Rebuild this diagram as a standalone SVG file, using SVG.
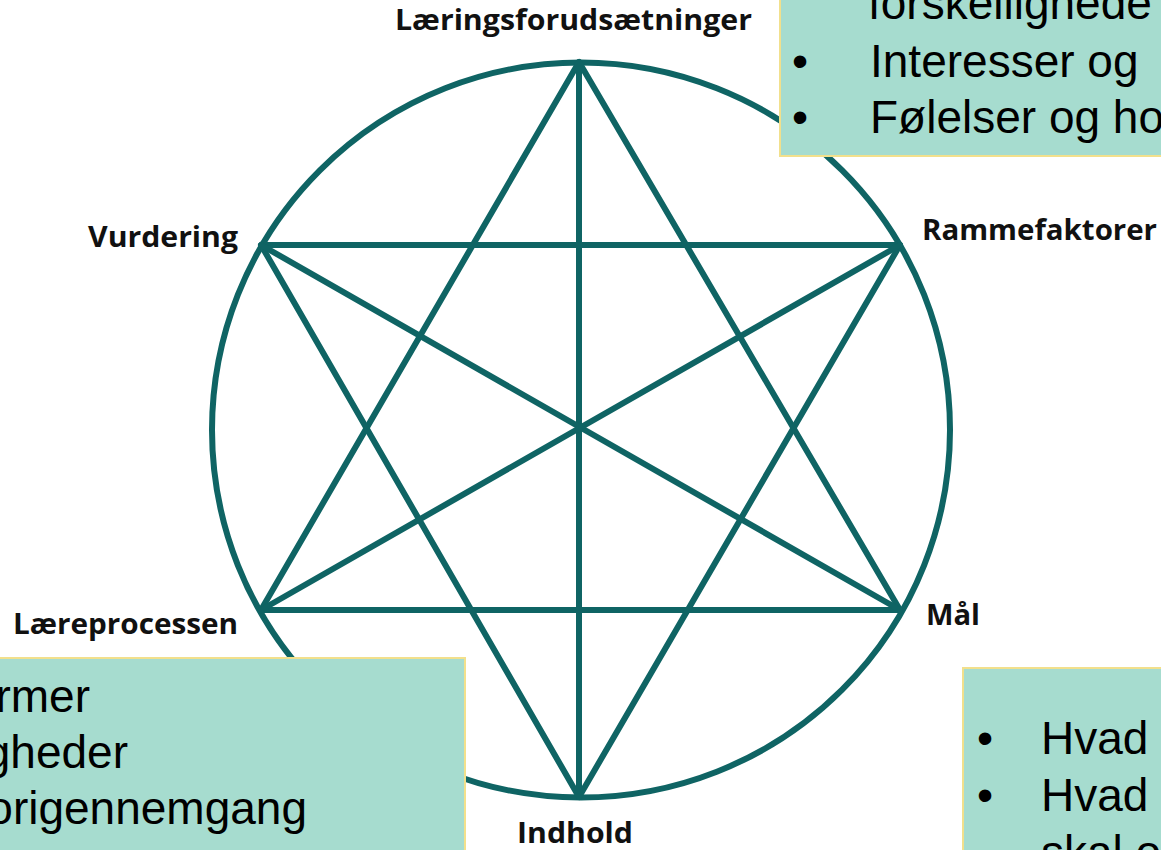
<svg xmlns="http://www.w3.org/2000/svg" width="1161" height="850" viewBox="0 0 1161 850">
<style>
.ln{stroke:#0f6464;stroke-width:6;fill:none;stroke-linecap:round}
.lbl{font-family:"Open Sans","DejaVu Sans",sans-serif;font-weight:bold;font-size:28px;fill:#111}
.box{fill:#a6dccf;stroke:#f2e08c;stroke-width:2}
.bt{font-family:"Liberation Sans",Arial,sans-serif;font-size:46px;fill:#000}
</style>
<rect width="1161" height="850" fill="#fff"/>
<g id="connectors">
<ellipse class="ln" cx="581" cy="430" rx="369" ry="367.5"/>
<polygon class="ln" points="579,62 261,610 900,610" stroke-linejoin="round"/>
<polygon class="ln" points="579,797 261,245 900,245" stroke-linejoin="round"/>
<line class="ln" x1="579" y1="62" x2="579" y2="797"/>
<line class="ln" x1="261" y1="245" x2="900" y2="610"/>
<line class="ln" x1="900" y1="245" x2="261" y2="610"/>
</g>
<g id="node-laeringsforudsaetninger"><text class="lbl" x="395" y="30" textLength="357" lengthAdjust="spacingAndGlyphs">Læringsforudsætninger</text></g>
<g id="node-vurdering"><text class="lbl" x="88" y="247" textLength="150" lengthAdjust="spacingAndGlyphs">Vurdering</text></g>
<g id="node-rammefaktorer"><text class="lbl" x="922" y="240" textLength="235" lengthAdjust="spacingAndGlyphs">Rammefaktorer</text></g>
<g id="node-laereprocessen"><text class="lbl" x="13" y="634" textLength="225" lengthAdjust="spacingAndGlyphs">Læreprocessen</text></g>
<g id="node-maal"><text class="lbl" x="926" y="625" textLength="54" lengthAdjust="spacingAndGlyphs">Mål</text></g>
<g id="node-indhold"><text class="lbl" x="517" y="843" textLength="116" lengthAdjust="spacingAndGlyphs">Indhold</text></g>
<g id="box-top-right">
<rect class="box" x="780" y="-10" width="400" height="166"/>
<text class="bt" x="868" y="19">forskellighede</text>
<text class="bt" x="792" y="77">•</text>
<text class="bt" x="870" y="77">Interesser og</text>
<text class="bt" x="792" y="133">•</text>
<text class="bt" x="870" y="133">Følelser og ho</text>
</g>
<g id="box-bottom-left">
<rect class="box" x="-10" y="658" width="475" height="200"/>
<text class="bt" x="90" y="712" text-anchor="end">rmer</text>
<text class="bt" x="128" y="768" text-anchor="end">gheder</text>
<text class="bt" x="307" y="824" text-anchor="end">origennemgang</text>
</g>
<g id="box-bottom-right">
<rect class="box" x="963" y="668" width="210" height="190"/>
<text class="bt" x="977" y="754">•</text>
<text class="bt" x="1041" y="754">Hvad</text>
<text class="bt" x="977" y="811">•</text>
<text class="bt" x="1041" y="811">Hvad</text>
<text class="bt" x="1041" y="868">skal o</text>
</g>
</svg>
